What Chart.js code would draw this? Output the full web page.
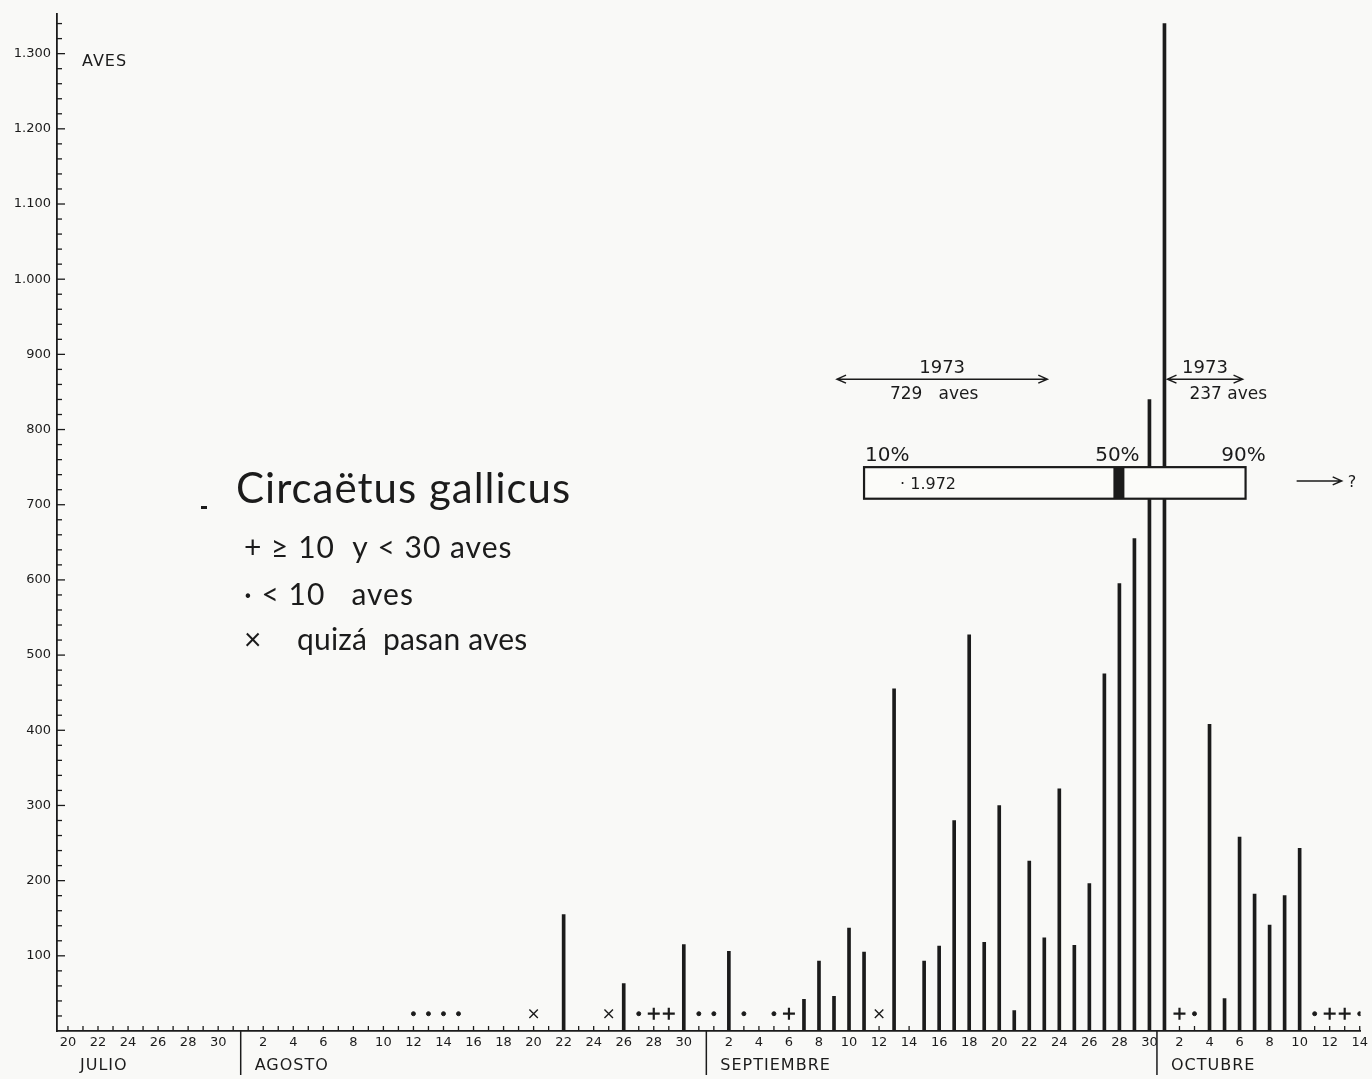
<!DOCTYPE html>
<html>
<head>
<meta charset="utf-8">
<script src="https://cdn.jsdelivr.net/npm/chart.js@4/dist/chart.umd.min.js"></script>
<style>
  html, body { margin: 0; background: #f9f9f7; }
  #wrap { width: 1372px; height: 1079px; }
</style>
</head>
<body>
<div id="wrap"><canvas id="avesChart"></canvas></div>
<script>
// daily counts of Circaetus gallicus (dates as MM-DD, 1973)
const barDates = ['08-22', '08-26', '08-30', '09-02', '09-07', '09-08', '09-09', '09-10', '09-11',
  '09-13', '09-15', '09-16', '09-17', '09-18', '09-19', '09-20', '09-21', '09-22', '09-23',
  '09-24', '09-25', '09-26', '09-27', '09-28', '09-29', '09-30', '10-01', '10-04', '10-05',
  '10-06', '10-07', '10-08', '10-09', '10-10'];
const barCounts = [155, 63, 115, 106, 42, 93, 46, 137, 105,
  455, 93, 113, 280, 527, 118, 300, 27, 226, 124,
  322, 114, 196, 475, 595, 655, 840, 1340, 408, 43,
  258, 182, 141, 180, 243];

const plusDates = ['08-28', '08-29', '09-06', '10-02', '10-12', '10-13'];   // >=10 y <30 aves
const dotDates = ['08-12', '08-13', '08-14', '08-15', '08-27', '08-31', '09-01', '09-03',
  '09-05', '10-03', '10-11', '10-14'];                                      // <10 aves
const crossDates = ['08-20', '08-25', '09-12'];                             // quiza pasan aves

const monthNames = ['JULIO', 'AGOSTO', 'SEPTIEMBRE', 'OCTUBRE'];
const monthFirst = ['07-20', '08-01', '09-01', '10-01'];
const yTickStep = 20;
const yLabelStep = 100;

// 1973 passage ranges and 1972 percentiles
const span1973 = [['09-09', '09-23', '729   aves'], ['10-01', '10-06', '237 aves']];
const pct1972 = ['09-11', '09-28', '10-06'];   // 10%, 50%, 90%

const ink = '#1b1b1b';
const t0 = Date.UTC(1973, 6, 20);
const dayIdx = s => {
  const [m, d] = s.split('-').map(Number);
  return (Date.UTC(1973, m - 1, d) - t0) / 864e5;
};
const dayOfMonth = i => new Date(t0 + i * 864e5).getUTCDate();
const markerLevel = 23;

const annotate = {
  id: 'annotate',
  afterDraw(chart) {
    const { ctx, chartArea: a, scales: { x, y } } = chart;
    ctx.save();
    ctx.strokeStyle = ink;
    ctx.fillStyle = ink;
    ctx.lineWidth = 1.3;

    // ticks pointing into the plot
    x.ticks.forEach(t => {
      const px = x.getPixelForValue(t.value);
      ctx.beginPath();
      ctx.moveTo(px, a.bottom);
      ctx.lineTo(px, a.bottom - 5);
      ctx.stroke();
    });
    y.ticks.forEach(t => {
      if (!t.value) return;
      const py = y.getPixelForValue(t.value);
      ctx.beginPath();
      ctx.moveTo(a.left, py);
      ctx.lineTo(a.left + (t.value % yLabelStep === 0 ? 8 : 5), py);
      ctx.stroke();
    });

    // month dividers and names
    ctx.font = '16px "DejaVu Sans"';
    ctx.letterSpacing = '1px';
    ctx.textBaseline = 'middle';
    ctx.textAlign = 'left';
    monthFirst.forEach((d, i) => {
      let lx;
      if (i === 0) {
        lx = a.left + 23;
      } else {
        const px = x.getPixelForValue(dayIdx(d) - 0.5);
        ctx.lineWidth = 1.5;
        ctx.beginPath();
        ctx.moveTo(px, a.bottom);
        ctx.lineTo(px, a.bottom + 44);
        ctx.stroke();
        lx = px + 14;
      }
      ctx.fillText(monthNames[i], lx, a.bottom + 35);
    });

    // axis title
    ctx.font = '16px "DejaVu Sans"';
    ctx.fillText('AVES', a.left + 25, y.getPixelForValue(1300) + 8);

    // species title and key
    ctx.textBaseline = 'alphabetic';
    ctx.font = '42px "Lato"';
    ctx.fillText('Circaëtus gallicus', 236, 503);
    ctx.fillRect(201, 506, 6, 3);
    ctx.font = '30px "Lato"';
    ctx.fillText('+ \u2265 10  y < 30 aves', 244, 558);
    ctx.fillText('\u00b7 < 10   aves', 244, 605);
    ctx.fillText('\u00d7', 244, 650);
    ctx.letterSpacing = '0.2px';
    ctx.fillText('quizá  pasan aves', 297, 650);
    ctx.letterSpacing = '0px';

    // 1973 double arrows
    const arrow = (x1, x2, py, both) => {
      ctx.lineWidth = 1.5;
      ctx.beginPath();
      ctx.moveTo(x1, py); ctx.lineTo(x2, py);
      ctx.moveTo(x2 - 9, py - 4); ctx.lineTo(x2, py); ctx.lineTo(x2 - 9, py + 4);
      if (both) { ctx.moveTo(x1 + 9, py - 4); ctx.lineTo(x1, py); ctx.lineTo(x1 + 9, py + 4); }
      ctx.stroke();
    };
    const ay = y.getPixelForValue(867);
    span1973.forEach(([d1, d2, txt], i) => {
      const x1 = x.getPixelForValue(dayIdx(d1)) + 3;
      const x2 = x.getPixelForValue(dayIdx(d2)) + 3;
      arrow(x1, x2, ay, true);
      ctx.font = '18px "DejaVu Sans"';
      ctx.textAlign = 'center';
      ctx.fillText('1973', (x1 + x2) / 2, ay - 6);
      ctx.font = '17px "DejaVu Sans"';
      ctx.textAlign = i === 0 ? 'center' : 'left';
      ctx.fillText(txt, i === 0 ? (x1 + x2) / 2 - 8 : x1 + 22, ay + 20);
    });

    // 1972 percentile box
    const bx1 = x.getPixelForValue(dayIdx(pct1972[0]));
    const bm = x.getPixelForValue(dayIdx(pct1972[1]));
    const bx2 = x.getPixelForValue(dayIdx(pct1972[2]) + 0.4);
    const by1 = y.getPixelForValue(750);
    const by2 = y.getPixelForValue(708);
    ctx.fillStyle = '#fbfbf9';
    ctx.fillRect(bx1, by1, bx2 - bx1, by2 - by1);
    ctx.fillStyle = ink;
    ctx.lineWidth = 2.2;
    ctx.strokeRect(bx1, by1, bx2 - bx1, by2 - by1);
    ctx.fillRect(bm - 6, by1, 11, by2 - by1);
    ctx.font = '20px "DejaVu Sans"';
    ctx.textAlign = 'left';
    ctx.fillText('10%', bx1 + 1, by1 - 6);
    ctx.textAlign = 'center';
    ctx.fillText('50%', bm - 2, by1 - 6);
    ctx.fillText('90%', bx2 - 2, by1 - 6);
    ctx.font = '16px "DejaVu Sans"';
    ctx.textAlign = 'left';
    ctx.fillText('\u00b7 1.972', bx1 + 36, (by1 + by2) / 2 + 6);

    // later passage unknown
    const qy = (by1 + by2) / 2 - 2;
    arrow(x.getPixelForValue(dayIdx(pct1972[2]) + 3.8), x.getPixelForValue(dayIdx(pct1972[2]) + 6.8), qy, false);
    ctx.font = '16px "DejaVu Sans"';
    ctx.fillText('?', x.getPixelForValue(dayIdx(pct1972[2]) + 7.2), qy + 6);

    ctx.restore();
  }
};

const toPts = (dates, vals) => dates.map((d, i) => ({ x: dayIdx(d), y: vals ? vals[i] : markerLevel }));

new Chart(document.getElementById('avesChart'), {
  type: 'bar',
  data: {
    datasets: [
      {
        label: 'Aves',
        data: toPts(barDates, barCounts),
        backgroundColor: ink,
        barThickness: 3,
        grouped: false
      },
      {
        type: 'line', label: '+', data: toPts(plusDates), showLine: false,
        pointStyle: 'cross', pointRadius: 6, borderColor: ink, borderWidth: 2.2
      },
      {
        type: 'line', label: '.', data: toPts(dotDates), showLine: false,
        pointStyle: 'circle', pointRadius: 2, backgroundColor: ink, borderColor: ink, borderWidth: 1
      },
      {
        type: 'line', label: 'x', data: toPts(crossDates), showLine: false,
        pointStyle: 'crossRot', pointRadius: 6, borderColor: ink, borderWidth: 1.4
      }
    ]
  },
  options: {
    responsive: true,
    maintainAspectRatio: false,
    animation: false,
    layout: { padding: { top: 12, right: 0, left: 0, bottom: 0 } },
    plugins: { legend: { display: false }, tooltip: { enabled: false } },
    scales: {
      x: {
        type: 'linear',
        offset: false,
        min: -0.73,
        max: 86.05,
        afterFit: s => { s.height = 48; },
        afterBuildTicks: s => {
          s.ticks = [];
          for (let i = 0; i <= 86; i++) s.ticks.push({ value: i });
        },
        grid: { offset: false, drawOnChartArea: false, drawTicks: false },
        border: { color: ink, width: 1.8 },
        ticks: {
          autoSkip: false,
          maxRotation: 0,
          padding: 4,
          color: ink,
          font: { family: 'DejaVu Sans', size: 13 },
          callback: v => (dayOfMonth(v) % 2 === 0 ? String(dayOfMonth(v)) : '')
        }
      },
      y: {
        min: 0,
        max: 1353,
        afterFit: s => { s.width = 57; },
        afterBuildTicks: s => {
          s.ticks = [];
          for (let v = 0; v <= 1340; v += yTickStep) s.ticks.push({ value: v });
        },
        grid: { drawOnChartArea: false, drawTicks: false },
        border: { color: ink, width: 1.8 },
        ticks: {
          autoSkip: false,
          padding: 6,
          color: ink,
          font: { family: 'DejaVu Sans', size: 13 },
          callback: v => (v > 0 && v % yLabelStep === 0 ? v.toLocaleString('de-DE') : '')
        }
      }
    }
  },
  plugins: [annotate]
});
</script>
</body>
</html>
